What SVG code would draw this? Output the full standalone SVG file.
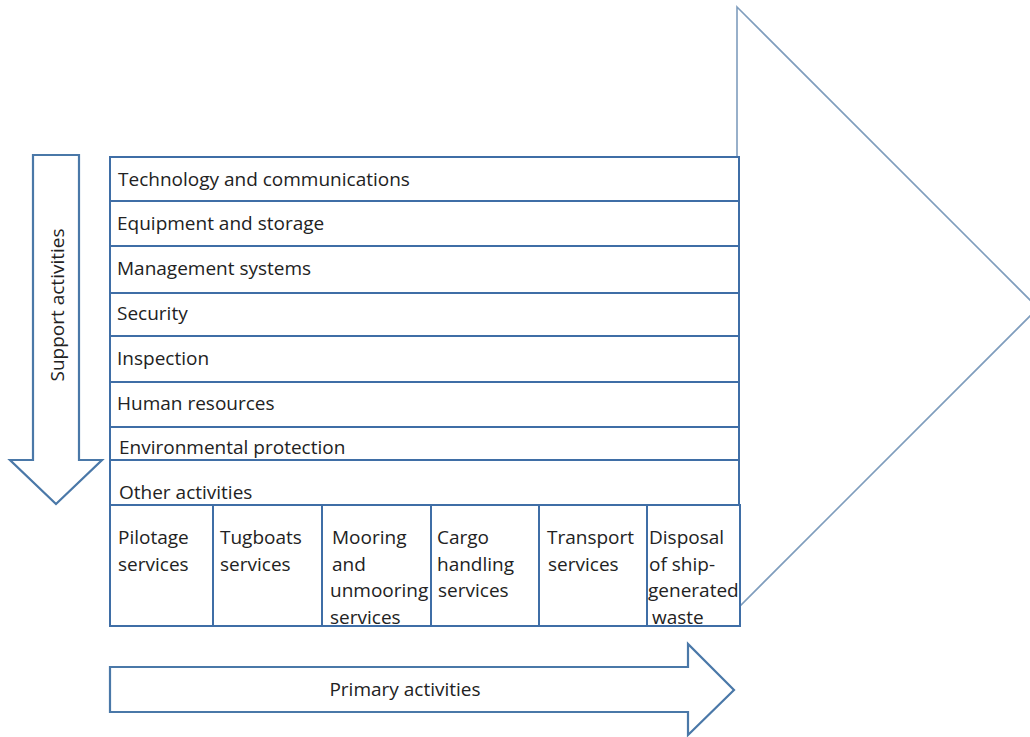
<svg xmlns="http://www.w3.org/2000/svg" width="1030" height="737" viewBox="0 0 1030 737">
<style>
.bg{fill:#fff}
.tri{fill:#fff;stroke:#7f9dbd;stroke-width:1.6}
.cell{fill:#fff;stroke:#3f6ea6;stroke-width:2}
.arr{fill:#fff;stroke:#4a78a8;stroke-width:2.2}
.t{font-family:"Open Sans","Liberation Sans",sans-serif;font-size:19px;fill:#222}
</style>
<rect class="bg" x="0" y="0" width="1030" height="737"/>
<g id="big-arrow"><path class="tri" d="M737,7 L1038,308 L737,609 Z"/></g>
<g id="support-arrow">
<path class="arr" d="M33,155 L79,155 L79,460 L102,460 L56,504 L10,460 L33,460 Z"/>
<text class="t" transform="translate(64,305) rotate(-90)" text-anchor="middle">Support activities</text>
</g>
<g id="primary-arrow">
<path class="arr" d="M110,667 L688,667 L688,644 L734,690 L688,735 L688,712 L110,712 Z"/>
<text class="t" x="405" y="696" text-anchor="middle">Primary activities</text>
</g>
<g id="support-rows">
<g id="row-tech"><rect class="cell" x="110" y="157" width="629" height="44"/><text class="t" x="118" y="186">Technology and communications</text></g>
<g id="row-equip"><rect class="cell" x="110" y="201" width="629" height="45"/><text class="t" x="117" y="230">Equipment and storage</text></g>
<g id="row-mgmt"><rect class="cell" x="110" y="246" width="629" height="47"/><text class="t" x="117" y="275">Management systems</text></g>
<g id="row-sec"><rect class="cell" x="110" y="293" width="629" height="43"/><text class="t" x="117" y="320">Security</text></g>
<g id="row-insp"><rect class="cell" x="110" y="336" width="629" height="46"/><text class="t" x="117" y="365">Inspection</text></g>
<g id="row-hr"><rect class="cell" x="110" y="382" width="629" height="45"/><text class="t" x="117" y="410">Human resources</text></g>
<g id="row-env"><rect class="cell" x="110" y="427" width="629" height="33"/><text class="t" x="119" y="454">Environmental protection</text></g>
<g id="row-other"><rect class="cell" x="110" y="460" width="629" height="45"/><text class="t" x="119" y="499">Other activities</text></g>
</g>
<g id="primary-cells">
<g id="c-pilot"><rect class="cell" x="110" y="505" width="103" height="121"/><text class="t" x="118" y="544">Pilotage<tspan x="118" dy="26.5">services</tspan></text></g>
<g id="c-tug"><rect class="cell" x="213" y="505" width="109" height="121"/><text class="t" x="220" y="544">Tugboats<tspan x="220" dy="26.5">services</tspan></text></g>
<g id="c-moor"><rect class="cell" x="322" y="505" width="109" height="121"/><text class="t" x="332" y="544">Mooring<tspan x="332" dy="26.5">and</tspan><tspan x="330" dy="26.5">unmooring</tspan><tspan x="330" dy="26.5">services</tspan></text></g>
<g id="c-cargo"><rect class="cell" x="431" y="505" width="108" height="121"/><text class="t" x="437" y="544">Cargo<tspan x="437" dy="26.5">handling</tspan><tspan x="438" dy="26.5">services</tspan></text></g>
<g id="c-trans"><rect class="cell" x="539" y="505" width="108" height="121"/><text class="t" x="547" y="544">Transport<tspan x="548" dy="26.5">services</tspan></text></g>
<g id="c-disp"><rect class="cell" x="647" y="505" width="93" height="121"/><text class="t" x="649" y="544">Disposal<tspan x="649" dy="26.5">of ship-</tspan><tspan x="648" dy="26.5">generated</tspan><tspan x="652" dy="26.5">waste</tspan></text></g>
</g>
</svg>
